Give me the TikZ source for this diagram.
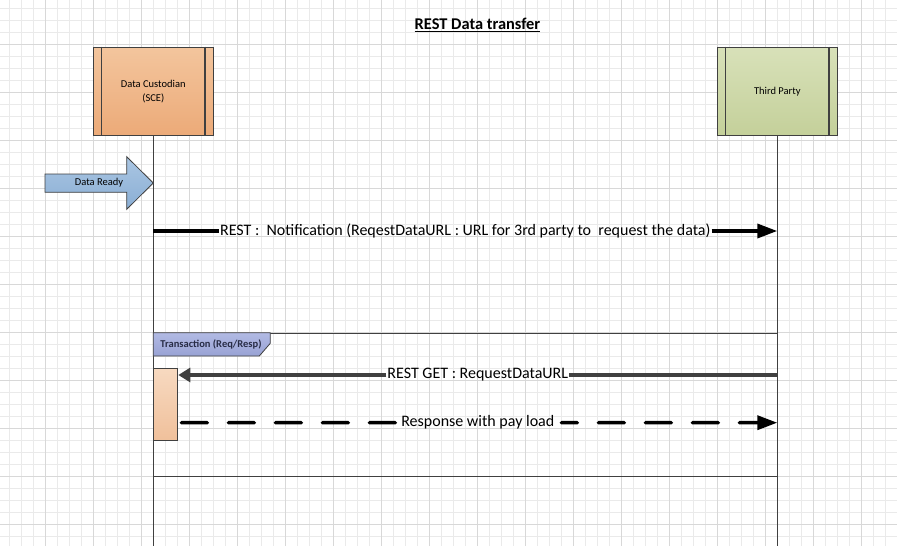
\documentclass[tikz,border=0pt]{standalone}
\usepackage{fontspec}
\setmainfont{Carlito}
\usepackage{xcolor}
\usetikzlibrary{arrows.meta,positioning,calc}

\definecolor{gridminor}{RGB}{234,234,234}
\definecolor{gridmajor}{RGB}{216,216,216}
\definecolor{edge}{RGB}{64,64,64}

\tikzset{
    actor/.style={draw=edge, line width=1.2pt, minimum width=120pt, minimum height=88.4pt, align=center, font=\fontsize{10.5}{13.4}\selectfont},
    lifeline/.style={draw=edge, line width=1pt},
    msgline/.style={line width=3.5pt},
    msglabel/.style={font=\fontsize{16}{18}\selectfont, inner sep=0.8pt},
}

\begin{document}
\begin{tikzpicture}[x=1pt,y=-1pt]
        \useasboundingbox (0,0) rectangle (897,546);
        \fill[white] (0,0) rectangle (897,546);
        \foreach \i in {0,...,73} \draw[gridminor, line width=0.8pt] ({9.3+12*\i},0) -- ({9.3+12*\i},546);
        \foreach \i in {0,...,44} \draw[gridminor, line width=0.8pt] (0,{8.3+12*\i}) -- (897,{8.3+12*\i});
        \foreach \i in {0,...,17} \draw[gridmajor, line width=0.8pt] ({45.3+48*\i},0) -- ({45.3+48*\i},546);
        \foreach \i in {0,...,10} \draw[gridmajor, line width=0.8pt] (0,{44.3+48*\i}) -- (897,{44.3+48*\i});

        \node[font=\bfseries\fontsize{16.4}{18}\selectfont] (title) at (477.5,25) {\underline{REST Data transfer}};

        \node[actor, top color={rgb,255:red,243;green,197;blue,157}, bottom color={rgb,255:red,236;green,170;blue,120}] (custodian) at (153.3,91.5) {Data Custodian\\(SCE)};
        \node[actor, top color={rgb,255:red,216;green,225;blue,185}, bottom color={rgb,255:red,196;green,208;blue,154}] (third) at (777.3,91.5) {Third Party};
        \draw[edge, line width=1.2pt] ([xshift=9pt]custodian.north west) -- ([xshift=9pt]custodian.south west);
        \draw[edge, line width=1.2pt] ([xshift=-9pt]custodian.north east) -- ([xshift=-9pt]custodian.south east);
        \draw[edge, line width=1.2pt] ([xshift=9pt]third.north west) -- ([xshift=9pt]third.south west);
        \draw[edge, line width=1.2pt] ([xshift=-9pt]third.north east) -- ([xshift=-9pt]third.south east);

        \draw[lifeline] (custodian.south) -- (custodian.south |- 0,546);
        \draw[lifeline] (third.south) -- (third.south |- 0,546);

        \shadedraw[draw=edge, line width=0.8pt, top color={rgb,255:red,170;green,198;blue,227}, bottom color={rgb,255:red,138;green,174;blue,212}]
            (45,174) -- (126.7,174) -- (126.7,156.7) -- (153.3,183) -- (126.7,209.3) -- (126.7,192.3) -- (45,192.3) -- cycle;
        \node[font=\fontsize{10.5}{12}\selectfont, inner sep=0pt] (ready) at (99,183) {Data Ready};

        \coordinate (n1) at (custodian.south |- 0,231);
        \coordinate (n2) at (third.south |- 0,231);
        \node[msglabel] (notif) at ($(n1)!0.5!(n2)$) {REST :\ \ Notification (ReqestDataURL : URL for 3rd party to\ \ request the data)};
        \draw[msgline] (n1) -- (notif.west);
        \draw[msgline, -{Triangle[length=20pt,width=14pt]}] (notif.east) -- (n2);

        \node[draw=edge, line width=1pt, minimum width=624pt, minimum height=143.3pt, anchor=north west, inner sep=0pt] (trans) at (153.3,332.7) {};
        \shadedraw[draw=edge, line width=0.8pt, top color={rgb,255:red,178;green,186;blue,228}, bottom color={rgb,255:red,152;green,162;blue,212}]
            (trans.north west) -- ++(117,0) -- ++(0,10.6) -- ++(-11,12.7) -- ++(-106,0) -- cycle;
        \node[font=\bfseries\fontsize{10.5}{12}\selectfont, text={rgb,255:red,40;green,44;blue,70}, inner sep=0pt] (translabel) at (211,344.5) {Transaction (Req/Resp)};

        \node[draw=edge, line width=1pt, minimum width=24pt, minimum height=71.7pt, anchor=north west, inner sep=0pt, top color={rgb,255:red,247;green,217;blue,192}, bottom color={rgb,255:red,240;green,192;blue,155}] (act) at (153.3,368.3) {};

        \coordinate (g1) at (third.south |- 0,375);
        \coordinate (g2) at (act.east |- 0,375);
        \node[msglabel] (get) at ($(g1)!0.5!(g2)$) {REST GET : RequestDataURL};
        \draw[msgline, draw=edge] (g1) -- (get.east);
        \draw[msgline, draw=edge, -{Triangle[length=12pt,width=14pt]}] (get.west) -- (g2);

        \coordinate (r1) at (act.east |- 0,422.7);
        \coordinate (r2) at (third.south |- 0,422.7);
        \node[msglabel] (resp) at ($(r1)!0.5!(r2)$) {Response with pay load};
        \draw[msgline, line cap=round, dash pattern=on 26pt off 21pt] ([xshift=3pt]r1) -- ([xshift=-3pt]resp.west);
        \draw[msgline, line cap=round, dash pattern=on 26pt off 21pt, dash phase=10pt, -{Triangle[length=20pt,width=14pt]}] ([xshift=6pt]resp.east) -- (r2);
\end{tikzpicture}
\end{document}
